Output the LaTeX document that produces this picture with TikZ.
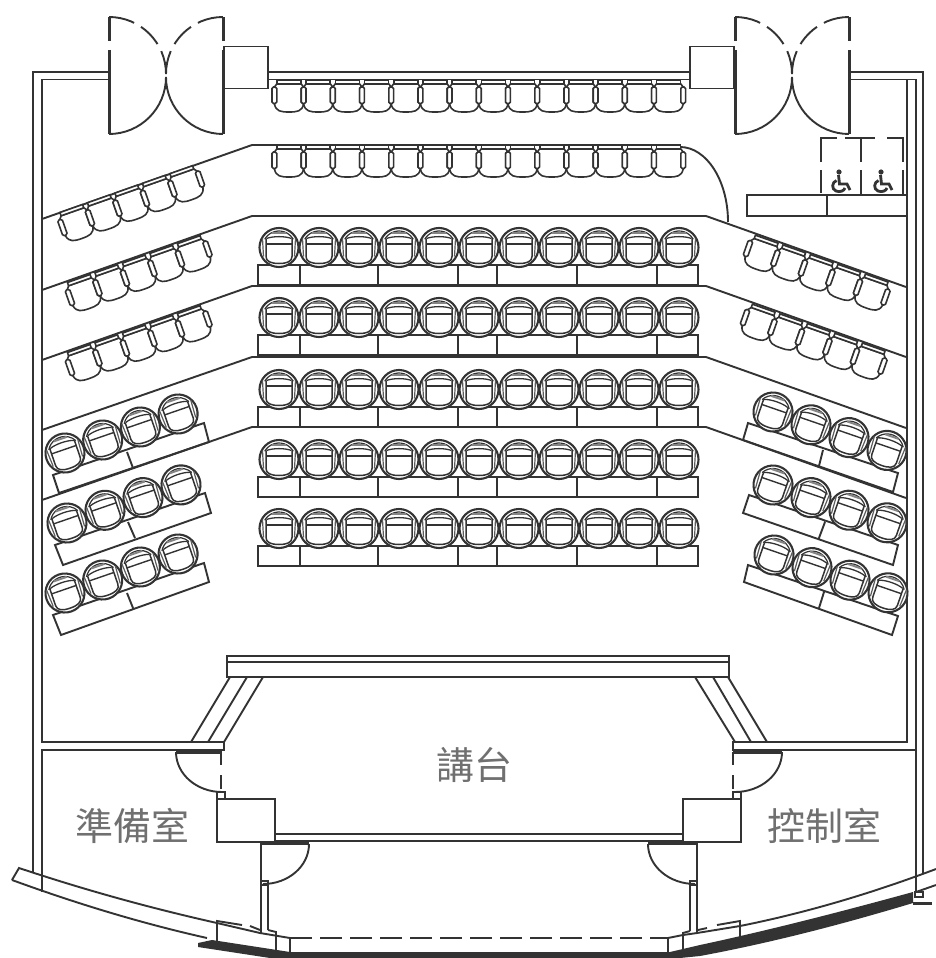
\documentclass[tikz,border=0pt]{standalone}
\usepackage{fontspec}
\newfontfamily\cjk{Noto Sans CJK TC}
\definecolor{ink}{HTML}{333333}
\tikzset{
  wall/.style={draw=ink,line width=1.9pt},
  thin wall/.style={draw=ink,line width=1.4pt},
  heavy/.style={draw=ink,line width=3pt},
  room label/.style={font=\cjk\fontsize{38}{38}\selectfont,text=ink!70,inner sep=0pt},
}
\newcommand{\seatA}[3]{%
  \begin{scope}[shift={(#1,#2)},rotate=#3,draw=ink,line width=1.6pt]
    \draw[fill=white] (-12,-12.3) -- (-14.6,-9) -- (-14.6,8) .. controls (-13,15.5) and (-8,16) .. (0,16) .. controls (8,16) and (13,15.5) .. (14.6,8) -- (14.6,-9) -- (12,-12.3) -- cycle;
    \draw[fill=white] (-12,-15.8) rectangle (12,-12.3);
    \draw[fill=white,rounded corners=1.5pt] (-17,-9) rectangle (-12.2,7.5);
    \draw[fill=white,rounded corners=1.5pt] (12.2,-9) rectangle (17,7.5);
  \end{scope}}
\newcommand{\seatB}[3]{%
  \begin{scope}[shift={(#1,#2)},rotate=#3,draw=ink]
    \draw[fill=white,line width=2.1pt] (0,0) circle (19.5);
    \draw[line width=1.2pt] (-150:16.5) arc (-150:-30:16.5);
    \draw[line width=2pt,ink!60] (-7,-14.7) -- (7,-14.7);
    \draw[line width=1.3pt] (-12.5,-9) .. controls (-6,-11.5) and (6,-11.5) .. (12.5,-9);
    \draw[line width=1.4pt] (-13,-3.5) -- (13,-3.5);
    \draw[line width=1.5pt] (-13,-9) -- (-13,9) .. controls (-13,14) and (-8,16) .. (0,16) .. controls (8,16) and (13,14) .. (13,9) -- (13,-9);
    \draw[line width=1.2pt,ink!80] (-16.5,-9) -- (-15.5,9);
    \draw[line width=1.2pt,ink!80] (16.5,-9) -- (15.5,9);
  \end{scope}}
\newcommand{\doubledoor}[2]{% left jamb x, right jamb x
  \draw[heavy] (#1,41) -- (#1,17);
  \draw[heavy] (#1,50) -- (#1,134);
  \draw[heavy] (#2,41) -- (#2,17);
  \draw[heavy] (#2,50) -- (#2,134);
  \draw[wall] (#1,134) arc (90:0:57);
  \draw[wall] (#2,134) arc (90:180:57);
  \draw[wall,dash pattern=on 26pt off 8pt on 24pt off 8pt on 26pt] (#1,17) arc (-90:0:57);
  \draw[wall,dash pattern=on 26pt off 8pt on 24pt off 8pt on 26pt] (#2,17) arc (-90:-180:57);}
\newcommand{\deskrow}[1]{%
  \draw[wall] (258,#1) rectangle (698,#1+20);
  \foreach \dx in {300,378,458,497,577,657} \draw[wall] (\dx,#1) -- (\dx,#1+20);}
\newcommand{\wheelchair}[2]{%
  \begin{scope}[shift={(#1,#2)}]
    \fill[ink] (1,-13) circle (2.6);
    \draw[ink,line width=2.8pt] (0.5,-10) -- (1.5,-1) -- (9,-1) -- (12,5);
    \draw[ink,line width=2.8pt] (-1.5,-4.5) .. controls (-6,-3) and (-7,4) .. (-2,6) .. controls (2,7.5) and (6,6) .. (7,3);
  \end{scope}}
\begin{document}
\begin{tikzpicture}[x=1pt,y=1pt,yscale=-1]
\useasboundingbox (0,0) rectangle (936,958);
% outer walls
\draw[wall] (108,72) -- (33,72) -- (33,872);
\draw[wall] (108,79.5) -- (42,79.5) -- (42,742) -- (224,742) -- (224,750) -- (42,750) -- (42,892);
\draw[wall] (269,72) -- (690,72);
\draw[wall] (269,79.5) -- (690,79.5);
\draw[wall] (850,72) -- (923,72) -- (923,873);
\draw[wall] (850,79.5) -- (916,79.5) -- (916,892);
\draw[wall] (907,80) -- (907,742) -- (733,742) -- (733,750) -- (916,750);
% doors and boxes at top
\doubledoor{109}{223}
\doubledoor{735}{849}
\draw[wall] (224,46.5) rectangle (268,88.5);
\draw[wall] (690,46.5) rectangle (734,88.5);
% tier lines
\draw[wall] (42,219) -- (252,145) -- (680,145);
\draw[wall] (680,147) arc (-90:0:48 and 75);
\draw[wall] (42,290) -- (252,216) -- (706,216) -- (906,287);
\draw[wall] (42,360) -- (252,286) -- (706,286) -- (906,357);
\draw[wall] (42,430) -- (252,357) -- (706,357) -- (906,428);
\draw[wall] (42,500) -- (252,427) -- (706,427) -- (906,498);
% accessible bays
\draw[wall] (747,195) rectangle (907,216);
\draw[wall] (827,195) -- (827,216);
\draw[thin wall] (821,193) -- (821,170) (821,162) -- (821,138) -- (837,138) (845,138) -- (875,138) (887,138) -- (903,138) -- (903,162) (903,170) -- (903,195);
\draw[thin wall] (861,138) -- (861,162) (861,170) -- (861,195);
\wheelchair{838}{185}
\wheelchair{880}{185}
% straight seat rows
\foreach \i in {0,...,13} {\seatA{289+\i*29.2}{96}{0}}
\foreach \i in {0,...,13} {\seatA{289+\i*29.2}{161}{0}}
% angled simple seats
\foreach \i in {-2,...,2} {\seatA{131.5+\i*27.5}{204-\i*9.7}{-19.4}}
\foreach \i in {-2,...,2} {\seatA{139+\i*27.5}{274-\i*9.7}{-19.4}}
\foreach \i in {-2,...,2} {\seatA{139+\i*27.5}{344-\i*9.7}{-19.4}}
\foreach \i in {-2,...,2} {\seatA{816.5+\i*27.5}{273.5+\i*9.7}{19.4}}
\foreach \i in {-2,...,2} {\seatA{813.5+\i*27.5}{342.5+\i*9.7}{19.4}}
% centre block
\foreach \dy in {265,335,407,477,546} {
  \deskrow{\dy}
  \foreach \i in {0,...,10} {\seatB{279+\i*40}{\dy-17.5}{0}}
}
% left desks and seats
\draw[wall] (53,475) -- (59,493) -- (209,442) -- (204,423) -- cycle (127,452) -- (133,468);
\draw[wall] (55,545) -- (63,565) -- (211,513) -- (205,493) -- cycle (128,522) -- (135,538);
\draw[wall] (53,615) -- (61,635) -- (209,582) -- (204,563) -- cycle (127,593) -- (133,608);
\foreach \i in {0,...,3} {\seatB{65+\i*37.7}{453-\i*13}{-19}}
\foreach \i in {0,...,3} {\seatB{67+\i*38}{523-\i*12.7}{-19}}
\foreach \i in {0,...,3} {\seatB{65+\i*37.7}{593-\i*13}{-19}}
% right desks and seats
\draw[wall] (748,423) -- (743,440) -- (893,492) -- (898,473) -- cycle (823,450) -- (819,466);
\draw[wall] (749,495) -- (743,513) -- (893,565) -- (898,545) -- cycle (825,522) -- (819,538);
\draw[wall] (748,565) -- (744,582) -- (892,635) -- (898,616) -- cycle (824,592) -- (819,608);
\foreach \i in {0,...,3} {\seatB{773+\i*38}{412+\i*12.8}{19}}
\foreach \i in {0,...,3} {\seatB{773+\i*38}{485+\i*12.6}{19}}
\foreach \i in {0,...,3} {\seatB{774+\i*38}{555+\i*12.6}{19}}
% stage
\draw[wall] (227,656) rectangle (729,677);
\draw[wall] (227,662) -- (729,662);
\draw[wall] (230,677) -- (191,742) (247,677) -- (208,742) (263,677) -- (224,742);
\draw[wall] (695,677) -- (735,742) (713,677) -- (751,742) (728,677) -- (767,742);
% stage-side doors
\draw[heavy] (176,752.5) -- (222,752.5);
\draw[wall] (176,752) arc (180:90:46 and 40);
\draw[wall,dash pattern=on 13pt off 10pt on 14pt off 4pt] (221,752) -- (221,792);
\draw[thin wall] (217,792) rectangle (225,799);
\draw[heavy] (733,752.5) -- (782,752.5);
\draw[wall] (782,752) arc (0:90:47 and 40);
\draw[wall,dash pattern=on 13pt off 10pt on 14pt off 4pt] (733,752) -- (733,792);
\draw[thin wall] (733,792) rectangle (741,799);
\draw[wall] (217,799) rectangle (275,842);
\draw[wall] (683,799) rectangle (741,842);
\draw[wall] (275,834) -- (683,834);
\draw[wall] (275,841) -- (683,841);
% lower doors
\draw[heavy] (261,843) -- (309,843);
\draw[wall] (309,844) arc (0:90:46 and 40);
\draw[wall] (261,843) -- (261,933);
\draw[wall] (268,884) -- (268,930);
\draw[thin wall] (261,881) rectangle (268,885);
\draw[heavy] (648,843) -- (698,843);
\draw[wall] (648,844) arc (180:90:47 and 40);
\draw[wall] (697,843) -- (697,933);
\draw[wall] (690,884) -- (690,931);
\draw[thin wall] (690,881) rectangle (697,885);
% front curved wall
\draw[wall] (12,880) -- (19,868) .. controls (85,890) and (150,908) .. (217,923) -- (260,933) -- (290,938);
\draw[wall] (12,880) .. controls (75,903) and (140,923) .. (207,938);
\draw[wall] (217,942) -- (217,921) -- (242,925) (250,926) -- (260,930);
\draw[wall] (268,930) -- (276,932) -- (276,950);
\draw[wall] (290,938) -- (290,952);
\draw[wall,dash pattern=on 22pt off 8pt] (290,938) -- (668,938);
\draw[wall] (668,952) -- (668,938) -- (683,935) -- (697,933) -- (740,926) .. controls (810,912) and (875,892) .. (936,869);
\draw[wall] (683,952) -- (683,933) -- (690,931);
\draw[wall] (698,930) -- (707,928) (717,925) -- (740,921) -- (740,940);
\draw[wall] (916,892) -- (936,885);
\draw[thin wall] (915,892) rectangle (923,897);
\draw[heavy] (913,903) -- (932,903);
\fill[ink] (198,943) -- (212,940) -- (290,952) -- (670,952) -- (700,945) .. controls (770,930) and (840,912) .. (913,892) -- (913,903) .. controls (840,925) and (770,943) .. (700,956) -- (680,958) -- (270,958) -- (198,947) -- cycle;
% labels
\node[room label] (stage) at (474,765) {講台};
\node[room label] (prep) at (132,826) {準備室};
\node[room label] (ctrl) at (824,826) {控制室};
\end{tikzpicture}
\end{document}
